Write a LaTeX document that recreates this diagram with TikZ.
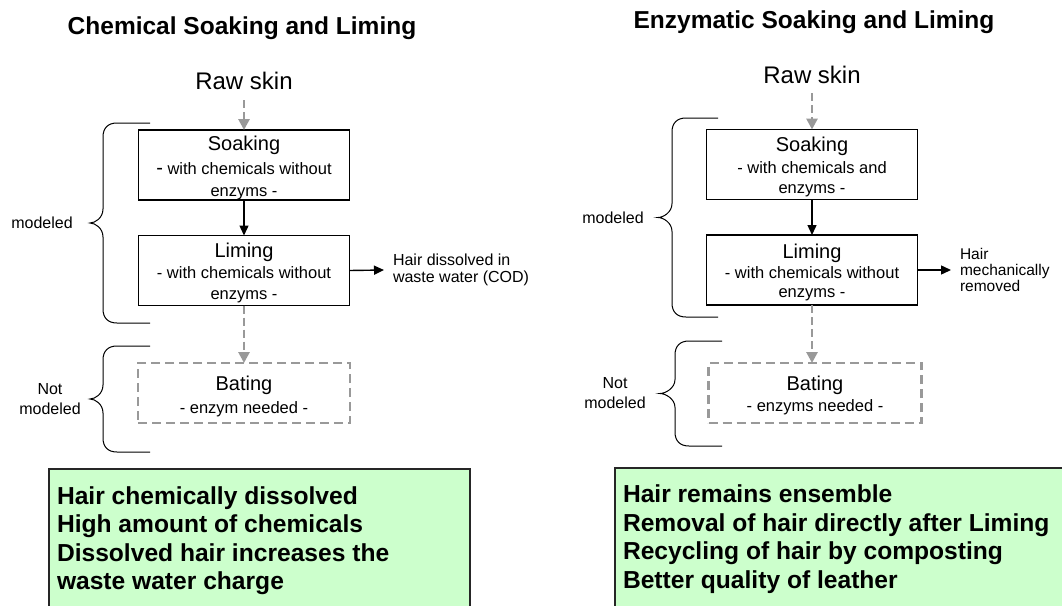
\documentclass[tikz,border=0pt]{standalone}
\usepackage{fontspec}
\setmainfont{Liberation Sans}
\usetikzlibrary{arrows.meta}
\definecolor{flowgray}{HTML}{999999}
\definecolor{notegreen}{HTML}{CCFFCC}

% curly brace opening to the right: #1 open end x, #2 spine x, #3 tip x, #4 top y, #5 bottom y
\newcommand\sidebrace[5]{%
  \draw[bracestyle] (#1,#4) -- ({#2+14},#4)
    .. controls ({#2+5},#4) and (#2,{#4+5}) .. (#2,{#4+14})
    -- (#2,{(#4+#5)/2-14})
    .. controls (#2,{(#4+#5)/2-5}) and ({#3+5},{(#4+#5)/2}) .. (#3,{(#4+#5)/2})
    .. controls ({#3+5},{(#4+#5)/2}) and (#2,{(#4+#5)/2+5}) .. (#2,{(#4+#5)/2+14})
    -- (#2,{#5-14})
    .. controls (#2,{#5-5}) and ({#2+5},#5) .. ({#2+14},#5) -- (#1,#5);
}

\begin{document}
\begin{tikzpicture}[x=1pt,y=-1pt,
  every node/.style={inner sep=0pt, outer sep=0pt},
  titletxt/.style={font=\fontsize{24.5}{29}\selectfont\bfseries, anchor=base},
  rawtxt/.style={font=\fontsize{24}{28}\selectfont, anchor=base},
  headtxt/.style={font=\fontsize{20}{24}\selectfont, anchor=base},
  subtxt/.style={font=\fontsize{16.5}{20}\selectfont, anchor=base},
  sidetxt/.style={font=\fontsize{16}{19.5}\selectfont, align=center},
  outtxt/.style={font=\fontsize{16}{17}\selectfont, align=left, anchor=west, inner xsep=9pt},
  notetxt/.style={font=\fontsize{24.6}{28.4}\selectfont\bfseries, align=left, anchor=north west},
  stepbox/.style={draw=black, line width=1.4pt, minimum width=211, minimum height=70},
  batebox/.style={draw=flowgray, line width=2.2pt, dash pattern=on 9pt off 5pt, minimum height=60},
  notebox/.style={draw=black!85, line width=1.3pt, fill=notegreen, anchor=north west, minimum height=170},
  flowarrow/.style={draw=black, line width=1.4pt, -{Triangle[length=10pt,width=9pt]}},
  dasharrow/.style={draw=flowgray, line width=2.8pt, dash pattern=on 8pt off 4pt, -{Triangle[length=11pt,width=11pt]}},
  bracestyle/.style={draw=black, line width=1pt}
]
\path[fill=white] (0,0) rectangle (1062,605);
\useasboundingbox (0,0) rectangle (1062,605);
\clip (0,0) rectangle (1062,605);

% ---------------- chemical soaking and liming ----------------
\node[titletxt] (titleL) at (242,34) {Chemical Soaking and Liming};
\node[rawtxt] (rawL) at (244,89) {Raw skin};

\node[stepbox] (soakL) at (244,165) {};
\node[headtxt] (soakLa) at (244,150) {Soaking};
\node[subtxt] (soakLb) at (244,174) {{\fontsize{20}{20}\selectfont -} with chemicals without};
\node[subtxt] (soakLc) at (244,196) {enzyms -};

\node[stepbox] (limeL) at (244,270.5) {};
\node[headtxt] (limeLa) at (244,257) {Liming};
\node[subtxt] (limeLb) at (244,278) {- with chemicals without};
\node[subtxt] (limeLc) at (244,299) {enzyms -};

\node[batebox, minimum width=212] (bateL) at (244,393) {};
\node[headtxt] (bateLa) at (244,390) {Bating};
\node[subtxt] (bateLb) at (244,413) {- enzym needed -};

\node[outtxt] (hairL) at (384,270) {Hair dissolved in\\waste water (COD)};

\draw[dasharrow, shorten <=11pt] (rawL.south) -- (soakL.north);
\draw[flowarrow] (soakL.south) -- (limeL.north);
\draw[flowarrow] (limeL.east) -- (hairL.west);
\draw[dasharrow] (limeL.south) -- (bateL.north);

\sidebrace{150}{103}{90}{123}{323}
\node[sidetxt] (modL) at (42,223) {modeled};
\sidebrace{150}{103}{90}{346}{452}
\node[sidetxt] (notmodL) at (50,399) {Not\\modeled};

\node[notebox, minimum width=421] (noteL) at (49,469) {};
\node[notetxt] (noteLt) at (57,486.5) {Hair chemically dissolved\\High amount of chemicals\\Dissolved hair increases the\\waste water charge};

% ---------------- enzymatic soaking and liming ----------------
\node[titletxt] (titleR) at (814,28) {Enzymatic Soaking and Liming};
\node[rawtxt] (rawR) at (812,83) {Raw skin};

\node[stepbox] (soakR) at (812,164.5) {};
\node[headtxt] (soakRa) at (812,151) {Soaking};
\node[subtxt] (soakRb) at (812,173) {- with chemicals and};
\node[subtxt] (soakRc) at (812,193) {enzyms -};

\node[stepbox] (limeR) at (812,270) {};
\node[headtxt] (limeRa) at (812,258) {Liming};
\node[subtxt] (limeRb) at (812,278) {- with chemicals without};
\node[subtxt] (limeRc) at (812,297) {enzyms -};

\node[batebox, minimum width=213] (bateR) at (815,393) {};
\node[headtxt] (bateRa) at (815,390) {Bating};
\node[subtxt] (bateRb) at (815,411) {- enzyms needed -};

\node[outtxt, font=\fontsize{15.5}{16}\selectfont] (hairR) at (951,270) {Hair\\mechanically\\removed};

\draw[dasharrow, shorten <=10pt] (rawR.south) -- (soakR.north);
\draw[flowarrow] (soakR.south) -- (limeR.north);
\draw[flowarrow] (limeR.east) -- (hairR.west);
\draw[dasharrow] (limeR.south) -- (limeR.south |- bateR.north);

\sidebrace{718}{672}{658}{118}{317}
\node[sidetxt] (modR) at (613,217.5) {modeled};
\sidebrace{722}{675}{660}{341}{446}
\node[sidetxt] (notmodR) at (615,393) {Not\\modeled};

\node[notebox, minimum width=470] (noteR) at (615,468) {};
\node[notetxt] (noteRt) at (623,485) {Hair remains ensemble\\Removal of hair directly after Liming\\Recycling of hair by composting\\Better quality of leather};
\end{tikzpicture}
\end{document}
